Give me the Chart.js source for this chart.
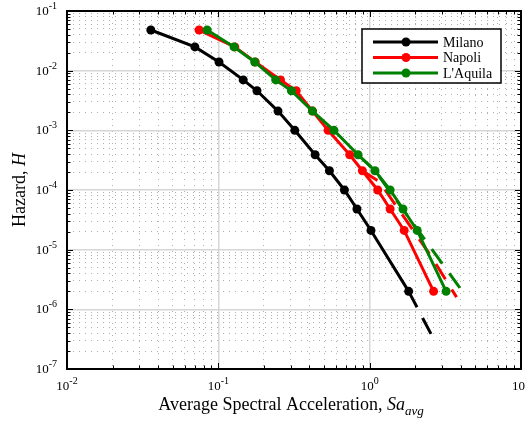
<!DOCTYPE html>
<html>
<head>
<meta charset="utf-8">
<script src="https://cdn.jsdelivr.net/npm/chart.js@4.4.0/dist/chart.umd.min.js"></script>
<style>
	html, body { margin: 0; padding: 0; background: #fff; }
	#wrap { width: 526px; height: 423px; }
</style>
</head>
<body>
<div id="wrap"><canvas id="hazard-curves" width="526" height="423"></canvas></div>
<script>
// Hazard levels, shared by the three sites.
var hazard = [ 0.048, 0.025, 0.014, 0.0070, 0.0046, 0.0021, 0.0010, 3.9e-4, 2.1e-4, 1.0e-4, 4.8e-5, 2.1e-5, 2.0e-6 ];

// Sa_avg [g] at each hazard level.
var saMilano = [ 0.0358, 0.070, 0.101, 0.146, 0.180, 0.248, 0.320, 0.436, 0.542, 0.681, 0.824, 1.02, 1.81 ];
var saNapoli = [ 0.0746, 0.1285, 0.1754, 0.2575, 0.327, 0.419, 0.531, 0.738, 0.895, 1.13, 1.365, 1.69, 2.645 ];
var saAquila = [ 0.0843, 0.127, 0.174, 0.2395, 0.304, 0.419, 0.581, 0.838, 1.084, 1.365, 1.66, 2.06, 3.20 ];

// Dashed tails (extrapolation).
var tailMilanoSa = [ 1.81, 2.76 ];
var tailMilanoH  = [ 2.0e-6, 2.6e-7 ];
var tailNapoliSa = [ 0.895, 1.164, 2.57, 3.75 ];
var tailNapoliH  = [ 2.1e-4, 1.36e-4, 7.5e-6, 1.6e-6 ];
var tailAquilaSa = [ 0.838, 1.084, 4.37 ];
var tailAquilaH  = [ 3.9e-4, 2.1e-4, 1.6e-6 ];

var siteNames  = [ 'Milano', 'Napoli', "L'Aquila" ];
var siteColors = [ '#000000', '#ff0000', '#008000' ];

// Decade tick labels.
var xDecades = [ -2, -1, 0, 1 ];
var yDecades = [ -7, -6, -5, -4, -3, -2, -1 ];

var SERIF = '"Liberation Serif", "Times New Roman", serif';

function pairs( xs, ys ) {
	return xs.map( function ( x, i ) { return { x: x, y: ys[ i ] }; } );
}

function logTicks( decades ) {
	var ticks = [];
	for ( var i = 0; i < decades.length - 1; i++ ) {
		for ( var m = 1; m <= 9; m++ ) {
			ticks.push( { value: m * Math.pow( 10, decades[ i ] ), major: m === 1 } );
		}
	}
	ticks.push( { value: Math.pow( 10, decades[ decades.length - 1 ] ), major: true } );
	return ticks;
}

function solid( i, sa, order ) {
	return {
		label: siteNames[ i ],
		data: pairs( sa, hazard ),
		showLine: true,
		borderColor: siteColors[ i ],
		backgroundColor: siteColors[ i ],
		borderWidth: 3,
		pointRadius: 4.5,
		pointBorderWidth: 0,
		pointHoverRadius: 4.5,
		tension: 0,
		order: order,
	};
}

function tail( i, sa, h, order ) {
	return {
		label: siteNames[ i ] + ' tail',
		data: pairs( sa, h ),
		showLine: true,
		borderColor: siteColors[ i ],
		borderWidth: 3,
		borderDash: [ 18, 12 ],
		pointRadius: 0,
		tension: 0,
		order: order,
	};
}

// Draws "10" with a superscript exponent; anchor is right edge or centre, at the baseline.
function powLabel( ctx, exp, x, y, align ) {
	var sup = exp < 0 ? '-' + ( -exp ) : String( exp );
	ctx.font = '13px ' + SERIF;
	var wb = ctx.measureText( '10' ).width;
	ctx.font = '10px ' + SERIF;
	var ws = ctx.measureText( sup ).width;
	var total = wb + ws;
	var x0 = align === 'center' ? x - total / 2 : x - total;
	ctx.textAlign = 'left';
	ctx.textBaseline = 'alphabetic';
	ctx.font = '13px ' + SERIF;
	ctx.fillText( '10', x0, y );
	ctx.font = '10px ' + SERIF;
	ctx.fillText( sup, x0 + wb, y - 6 );
}

// Sequence of [text, font, dy] pieces drawn left to right, centred on cx.
function richText( ctx, pieces, cx, y ) {
	var widths = pieces.map( function ( p ) { ctx.font = p[ 1 ]; return ctx.measureText( p[ 0 ] ).width; } );
	var total = widths.reduce( function ( a, b ) { return a + b; }, 0 );
	var x = cx - total / 2;
	ctx.textAlign = 'left';
	ctx.textBaseline = 'alphabetic';
	pieces.forEach( function ( p, i ) {
		ctx.font = p[ 1 ];
		ctx.fillText( p[ 0 ], x, y + p[ 2 ] );
		x += widths[ i ];
	} );
}

var matlabAxes = {
	id: 'matlabAxes',
	afterDraw: function ( chart ) {
		var ctx = chart.ctx;
		var a = chart.chartArea;
		var xs = chart.scales.x;
		var ys = chart.scales.y;
		ctx.save();
		ctx.fillStyle = '#000';
		ctx.strokeStyle = '#000';

		// inward ticks on all four sides
		ctx.lineWidth = 1;
		ctx.beginPath();
		xs.ticks.forEach( function ( t ) {
			var px = Math.round( xs.getPixelForValue( t.value ) ) + 0.5;
			var len = t.major ? 6 : 3.5;
			ctx.moveTo( px, a.bottom ); ctx.lineTo( px, a.bottom - len );
			ctx.moveTo( px, a.top ); ctx.lineTo( px, a.top + len );
		} );
		ys.ticks.forEach( function ( t ) {
			var py = Math.round( ys.getPixelForValue( t.value ) ) + 0.5;
			var len = t.major ? 6 : 3.5;
			ctx.moveTo( a.left, py ); ctx.lineTo( a.left + len, py );
			ctx.moveTo( a.right, py ); ctx.lineTo( a.right - len, py );
		} );
		ctx.stroke();

		// box
		ctx.lineWidth = 2;
		ctx.strokeRect( a.left, a.top, a.right - a.left, a.bottom - a.top );

		// tick labels
		xDecades.forEach( function ( d ) {
			powLabel( ctx, d, xs.getPixelForValue( Math.pow( 10, d ) ), a.bottom + 21, 'center' );
		} );
		yDecades.forEach( function ( d ) {
			powLabel( ctx, d, a.left - 10, ys.getPixelForValue( Math.pow( 10, d ) ) + 4, 'right' );
		} );

		// axis titles
		richText( ctx, [
			[ 'Average Spectral Acceleration, ', '18px ' + SERIF, 0 ],
			[ 'Sa', 'italic 18px ' + SERIF, 0 ],
			[ 'avg', 'italic 13px ' + SERIF, 5 ],
		], 291, 410 );
		ctx.save();
		ctx.translate( 25, ( a.top + a.bottom ) / 2 );
		ctx.rotate( -Math.PI / 2 );
		richText( ctx, [
			[ 'Hazard, ', '18px ' + SERIF, 0 ],
			[ 'H', 'italic 18px ' + SERIF, 0 ],
		], 0, 0 );
		ctx.restore();

		// legend
		var lx = 362, ly = 29, lw = 139, lh = 54;
		ctx.fillStyle = '#fff';
		ctx.fillRect( lx, ly, lw, lh );
		ctx.lineWidth = 1.5;
		ctx.strokeStyle = '#000';
		ctx.strokeRect( lx, ly, lw, lh );
		siteNames.forEach( function ( name, i ) {
			var cy = 42 + i * 15.5;
			ctx.strokeStyle = siteColors[ i ];
			ctx.fillStyle = siteColors[ i ];
			ctx.lineWidth = 3;
			ctx.beginPath();
			ctx.moveTo( 373, cy ); ctx.lineTo( 438, cy );
			ctx.stroke();
			ctx.beginPath();
			ctx.arc( 406, cy, 4.5, 0, Math.PI * 2 );
			ctx.fill();
			ctx.fillStyle = '#000';
			ctx.font = '14px ' + SERIF;
			ctx.textAlign = 'left';
			ctx.textBaseline = 'middle';
			ctx.fillText( name, 443, cy + 1 );
		} );
		ctx.restore();
	},
};

function gridColor( c ) { return c.tick && c.tick.major ? '#d6d6d6' : '#b0b0b0'; }
function gridWidth( c ) { return c.tick && c.tick.major ? 1.5 : 1; }
function gridDash( c ) { return c.tick && ! c.tick.major ? [ 1, 5 ] : []; }

new Chart( document.getElementById( 'hazard-curves' ), {
	type: 'scatter',
	data: {
		datasets: [
			solid( 2, saAquila, 1 ),
			solid( 1, saNapoli, 2 ),
			solid( 0, saMilano, 3 ),
			tail( 2, tailAquilaSa, tailAquilaH, 4 ),
			tail( 1, tailNapoliSa, tailNapoliH, 5 ),
			tail( 0, tailMilanoSa, tailMilanoH, 6 ),
		],
	},
	options: {
		responsive: false,
		animation: false,
		events: [],
		layout: { padding: { left: 67, right: 5, top: 11, bottom: 54 } },
		plugins: { legend: { display: false }, tooltip: { enabled: false } },
		scales: {
			x: {
				type: 'logarithmic',
				min: 0.01,
				max: 10,
				afterBuildTicks: function ( s ) { s.ticks = logTicks( xDecades ); },
				ticks: { display: false },
				grid: { color: gridColor, lineWidth: gridWidth, drawTicks: false },
				border: { display: false, dash: gridDash },
			},
			y: {
				type: 'logarithmic',
				min: 1e-7,
				max: 0.1,
				afterBuildTicks: function ( s ) { s.ticks = logTicks( yDecades ); },
				ticks: { display: false },
				grid: { color: gridColor, lineWidth: gridWidth, drawTicks: false },
				border: { display: false, dash: gridDash },
			},
		},
	},
	plugins: [ matlabAxes ],
} );
</script>
</body>
</html>
